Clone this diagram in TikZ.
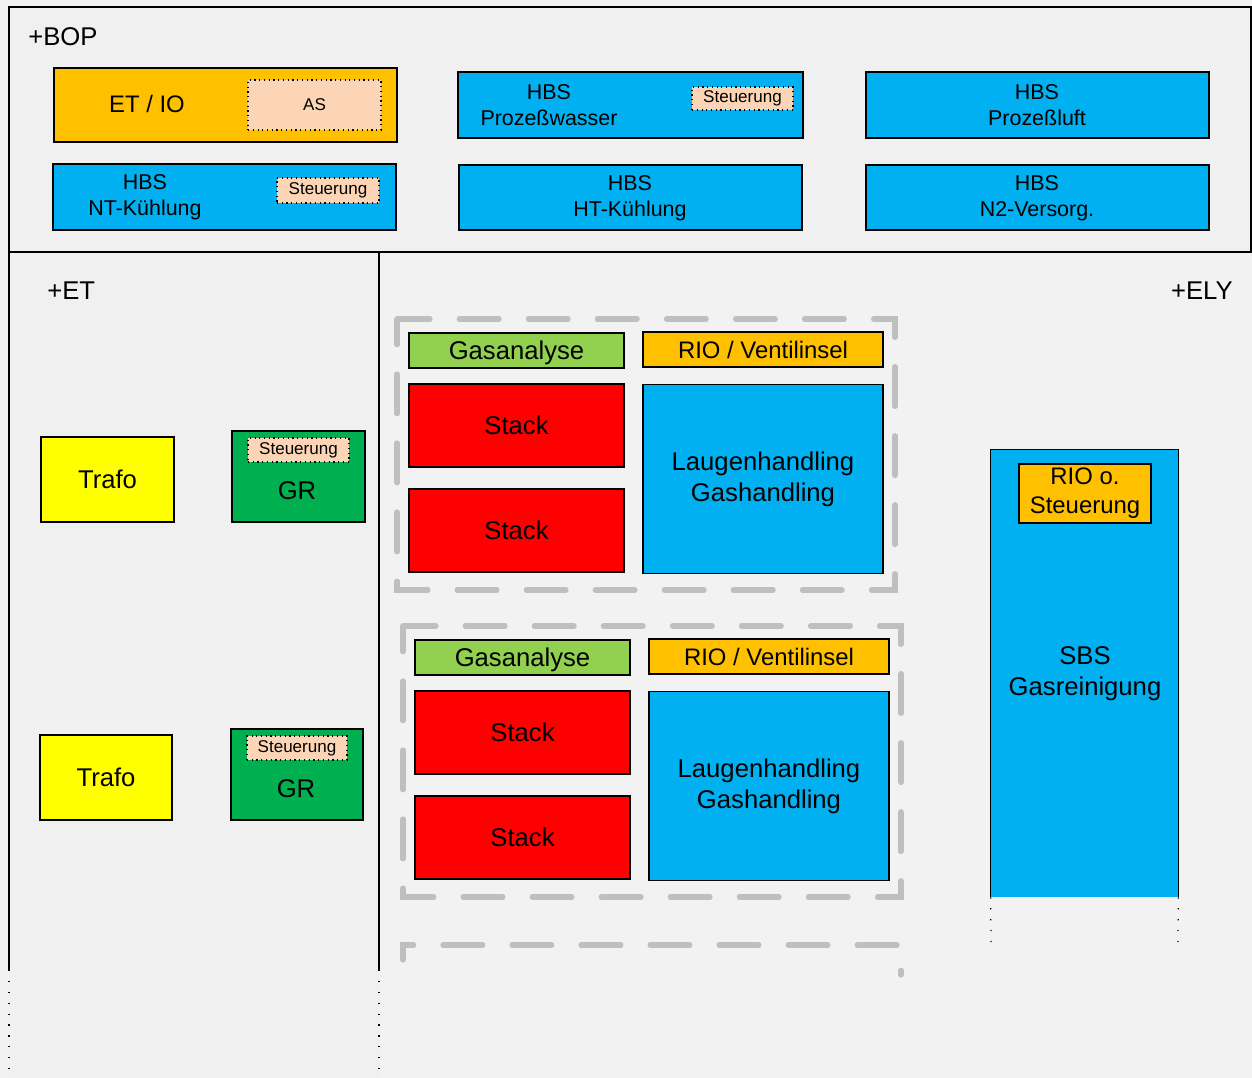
\documentclass[tikz,border=0pt]{standalone}
\usepackage{fontspec}
\setmainfont{Liberation Sans}
\usetikzlibrary{positioning}

\definecolor{bgpage}{HTML}{F2F2F2}
\definecolor{bgarea}{HTML}{F0F0F0}
\definecolor{hbsblue}{HTML}{00B0F0}
\definecolor{ioorange}{HTML}{FFC000}
\definecolor{grgreen}{HTML}{00B050}
\definecolor{gagreen}{HTML}{92D050}
\definecolor{stackred}{HTML}{FF0000}
\definecolor{trafoyellow}{HTML}{FFFF00}
\definecolor{ctrlpeach}{HTML}{FBD5B5}
\definecolor{framegray}{HTML}{BFBFBF}

\newcommand{\fbig}{\fontsize{14.6}{17.6}\selectfont}
\newcommand{\fmed}{\fontsize{13.6}{16.5}\selectfont}
\newcommand{\fmid}{\fontsize{12.2}{14.8}\selectfont}
\newcommand{\fsmall}{\fontsize{9.7}{11}\selectfont}

\tikzset{
  blk/.style={draw=black, line width=0.8pt, rectangle, inner sep=0pt},
  blkfill/.style={rectangle, inner sep=0pt, draw=none},
  ctrlbox/.style={draw=black, dotted, line width=0.7pt, fill=ctrlpeach, rectangle, inner sep=0pt, font=\fsmall},
  grpframe/.style={draw=framegray, line width=3pt, line cap=round, dash pattern=on 22.6pt off 16.7pt},
  arealine/.style={draw=black, line width=0.8pt},
  dotline/.style={draw=black, line width=0.7pt, dash pattern=on 0.7pt off 5.5pt},
  lbl/.style={inner sep=0pt, font=\fbig},
  twoline/.style={inner sep=0pt, align=center},
}

\begin{document}
\begin{tikzpicture}[x=0.02cm, y=-0.02cm]
\useasboundingbox (0,0) rectangle (1252,1078);
\fill[bgpage] (0,0) rectangle (1252,1078);
\fill[bgarea] (9,252) rectangle (379,1078);

% +BOP area
\filldraw[arealine, fill=bgarea] (9,7) rectangle (1251,252);
\node[lbl, anchor=west] (bop) at (28,37) {+BOP};

\node[blk, fill=ioorange, minimum width=6.86cm, minimum height=1.48cm] (etio) at (225.5,105) {};
\node[inner sep=0pt, font=\fmed] (etiotxt) at (147,104) {ET / IO};
\node[ctrlbox, minimum width=2.66cm, minimum height=1.0cm] (as) at (314.5,105) {AS};

\node[blk, fill=hbsblue, minimum width=6.9cm, minimum height=1.32cm] (pw) at (630.5,105) {};
\node[twoline, font=\fmid] (pwtxt) at (549,105) {HBS\\Prozeßwasser};
\node[ctrlbox, minimum width=2.02cm, minimum height=0.46cm] (pwctrl) at (742.5,98.5) {Steuerung};

\node[blk, fill=hbsblue, minimum width=6.86cm, minimum height=1.32cm] (pl) at (1037.5,105) {};
\node[twoline, font=\fmid] (pltxt) at (1037,105) {HBS\\Prozeßluft};

\node[blk, fill=hbsblue, minimum width=6.86cm, minimum height=1.32cm] (nt) at (224.5,197) {};
\node[twoline, font=\fmid] (nttxt) at (145,197) {HBS\\NT-Kühlung};
\node[ctrlbox, minimum width=2.04cm, minimum height=0.5cm] (ntctrl) at (328,190.5) {Steuerung};

\node[blk, fill=hbsblue, minimum width=6.86cm, minimum height=1.3cm] (ht) at (630.5,197.5) {};
\node[twoline, font=\fmid] (httxt) at (630,198) {HBS\\HT-Kühlung};

\node[blk, fill=hbsblue, minimum width=6.86cm, minimum height=1.3cm] (ntwo) at (1037.5,197.5) {};
\node[twoline, font=\fmid] (ntwotxt) at (1037,198) {HBS\\N2-Versorg.};

% +ET area
\draw[arealine] (9,252) -- (9,970);
\draw[dotline] (9,970) -- (9,1078);
\draw[arealine] (379,252) -- (379,970);
\draw[dotline] (379,970) -- (379,1078);
\node[lbl, anchor=west] (et) at (47,291) {+ET};

\node[blk, fill=trafoyellow, minimum width=2.66cm, minimum height=1.7cm, font=\fbig] (trafoa) at (107.5,479.5) {Trafo};
\node[blk, fill=grgreen, minimum width=2.66cm, minimum height=1.82cm] (gra) at (298.5,476.5) {};
\node[ctrlbox, minimum width=2.02cm, minimum height=0.48cm] (gractrl) at (298.5,450) {Steuerung};
\node[lbl] (gratxt) at (297,491) {GR};

\node[blk, fill=trafoyellow, minimum width=2.64cm, minimum height=1.7cm, font=\fbig] (trafob) at (106,777.5) {Trafo};
\node[blk, fill=grgreen, minimum width=2.64cm, minimum height=1.82cm] (grb) at (297,774.5) {};
\node[ctrlbox, minimum width=2.0cm, minimum height=0.48cm] (grbctrl) at (297,748) {Steuerung};
\node[lbl] (grbtxt) at (296,789) {GR};

% +ELY area
\node[lbl, anchor=east] (ely) at (1233,291) {+ELY};

\draw[grpframe, dash phase=8pt] (397,319) rectangle (895,590);
\node[blk, fill=gagreen, minimum width=4.3cm, minimum height=0.7cm, font=\fbig, text depth=0pt] (gasa) at (516.5,350.5) {Gasanalyse};
\node[blk, fill=ioorange, minimum width=4.8cm, minimum height=0.7cm, font=\fmed] (rioa) at (763,349.5) {RIO / Ventilinsel};
\node[blk, fill=stackred, minimum width=4.3cm, minimum height=1.66cm, font=\fbig] (stackaa) at (516.5,425.5) {Stack};
\node[blk, fill=stackred, minimum width=4.3cm, minimum height=1.66cm, font=\fbig] (stackab) at (516.5,530.5) {Stack};
\node[blk, fill=hbsblue, minimum width=4.8cm, minimum height=3.78cm, font=\fbig, align=center] (lauga) at (763,479) {Laugenhandling\\Gashandling};

\draw[grpframe, dash phase=8pt] (403,626) rectangle (901,897);
\node[blk, fill=gagreen, minimum width=4.3cm, minimum height=0.7cm, font=\fbig, text depth=0pt] (gasb) at (522.5,657.5) {Gasanalyse};
\node[blk, fill=ioorange, minimum width=4.8cm, minimum height=0.7cm, font=\fmed] (riob) at (769,656.5) {RIO / Ventilinsel};
\node[blk, fill=stackred, minimum width=4.3cm, minimum height=1.66cm, font=\fbig] (stackba) at (522.5,732.5) {Stack};
\node[blk, fill=stackred, minimum width=4.3cm, minimum height=1.66cm, font=\fbig] (stackbb) at (522.5,837.5) {Stack};
\node[blk, fill=hbsblue, minimum width=4.8cm, minimum height=3.78cm, font=\fbig, align=center] (laugb) at (769,786) {Laugenhandling\\Gashandling};

\draw[grpframe, dash phase=8pt] (403,960) -- (403,945) -- (901,945) -- (901,975);

\node[blkfill, fill=hbsblue, minimum width=3.74cm, minimum height=8.94cm] (sbs) at (1084.5,673.5) {};
\draw[arealine] (sbs.south west) -- (sbs.north west) -- (sbs.north east) -- (sbs.south east);
\coordinate (sbsendl) at (991,942);
\coordinate (sbsendr) at (1178,942);
\draw[dotline] (sbs.south west) -- (sbsendl);
\draw[dotline] (sbs.south east) -- (sbsendr);
\node[blk, fill=ioorange, minimum width=2.64cm, minimum height=1.18cm, font=\fmed, align=center] (sbsrio) at (1085,493.5) {RIO o.\\Steuerung};
\node[twoline, font=\fbig] (sbstxt) at (1085,674) {SBS\\Gasreinigung};
\end{tikzpicture}
\end{document}
